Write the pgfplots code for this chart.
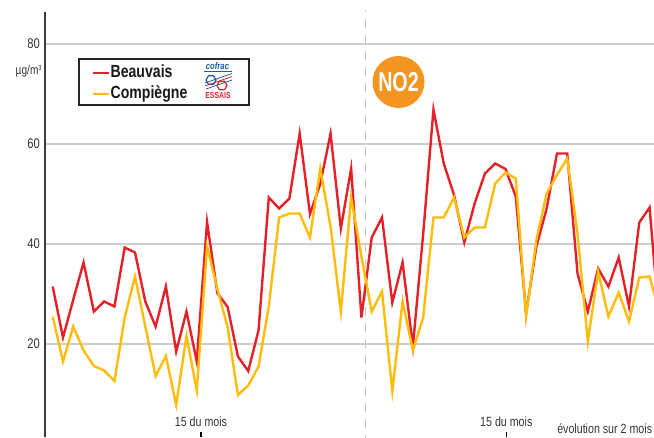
\documentclass[border=0pt]{standalone}
\usepackage{pgfplots}
\pgfplotsset{compat=1.18}
\usepackage{pgfplotstable}
\usepackage{fontspec}
\setmainfont{Liberation Sans}[FakeStretch=0.8]
\newfontfamily\narrowfont{Liberation Sans}[FakeStretch=0.72]
\definecolor{bred}{RGB}{230,32,40}
\definecolor{cyel}{RGB}{255,188,10}
\definecolor{orno}{RGB}{244,148,33}
\definecolor{gridgray}{RGB}{205,205,205}
\definecolor{dashgray}{RGB}{200,200,200}
\definecolor{textgray}{RGB}{51,51,51}
\definecolor{axisgray}{RGB}{60,60,60}
\definecolor{cofblue}{RGB}{30,90,175}
\definecolor{cofred}{RGB}{225,35,45}

\pgfplotstableread{
i r y
0 31.5 25.5
1 21.3 16.5
2 28.9 23.5
3 36.3 18.7
4 26.5 15.6
5 28.5 14.7
6 27.5 12.6
7 39.3 25.3
8 38.3 33.5
9 28.5 23.5
10 23.5 13.6
11 31.5 17.6
12 18.5 7.8
13 26.5 21.6
14 16.5 10.7
15 44.4 39.5
16 30.2 31.0
17 27.4 23.3
18 17.5 9.8
19 14.6 11.7
20 22.7 15.5
21 49.3 27.5
22 47.1 45.3
23 49.1 46.1
24 62.1 46.1
25 46.0 41.3
26 52.0 55.1
27 62.1 43.5
28 43.1 26.5
29 55.1 49.3
30 25.3 37.5
31 41.3 26.5
32 45.3 30.5
33 28.3 10.6
34 36.3 28.5
35 19.5 18.7
36 42.0 25.3
37 66.9 45.3
38 56.1 45.3
39 49.8 49.3
40 40.3 41.3
41 48.1 43.3
42 54.1 43.3
43 56.1 52.1
44 55.0 54.3
45 49.5 53.1
46 26.1 25.5
47 39.5 40.8
48 47.1 50.1
49 58.1 53.8
50 58.1 57.1
51 34.1 42.1
52 26.5 20.5
53 35.1 34.5
54 31.5 25.5
55 37.3 30.3
56 27.5 24.5
57 44.3 33.3
58 47.3 33.5
59 23.0 26.0
}\datatable

\begin{document}
\begin{tikzpicture}
\begin{axis}[
  scale only axis,
  width=456.75pt, height=325.5pt,
  xmin=-0.748, xmax=58.43, ymin=0, ymax=86.8,
  axis line style={draw=none},
  xtick=\empty,
  ytick={0,20,40,60,80},
  major tick length=0pt,
  ymajorgrids,
  grid style={line width=0.9pt, color=gridgray},
  yticklabel style={font=\fontsize{10.5}{12}\selectfont, text=textgray, anchor=east, inner sep=0pt, xshift=-3.75pt},
  /pgf/number format/assume math mode=true,
  legend style={at={(0.0772,0.8733)}, anchor=north west, draw=none, fill=none, inner sep=0pt,
    row sep=3.75pt,
    nodes={inner sep=0pt, text height=9.2pt, text depth=2.6pt, font=\bfseries\fontsize{13.2}{14}\selectfont, text=black!90},
    /tikz/every even column/.append style={column sep=3.75pt}},
  legend cell align=left,
  legend image code/.code={\draw[#1] (0pt,0pt) -- (12pt,0pt);},
]
\draw[line width=1pt, color=dashgray, dash pattern=on 7pt off 5pt] (axis cs:30.4,0) -- (axis cs:30.4,86.8);
\addplot[color=bred, line width=1.8pt] table[x=i, y=r] {\datatable};
\addplot[color=cyel, line width=1.8pt] table[x=i, y=y] {\datatable};
\legend{Beauvais, Compiègne}
\coordinate (O) at (rel axis cs:0,0);
\end{axis}
\begin{scope}[shift={(O)}, x=0.75pt, y=-0.75pt, shift={(-45,-444)}]
  % y axis line
  \draw[line width=1.2pt, color=axisgray] (45,12) -- (45,437);
  % unit
  \node[anchor=east, inner sep=0pt, text=textgray, font=\fontsize{9.5}{11}\selectfont] at (42,71) {µg/m\raisebox{0.55ex}{\fontsize{5.5}{6}\selectfont 3}};
  % bottom labels
  \node[text=textgray, inner sep=0pt, font=\fontsize{10}{12}\selectfont] at (201,422) {15 du mois};
  \draw[line width=0.9pt, color=black] (201,431.5) -- (201,437);
  \node[text=textgray, inner sep=0pt, font=\fontsize{10}{12}\selectfont] at (506.3,422) {15 du mois};
  \draw[line width=0.9pt, color=black] (506.3,431.5) -- (506.3,437);
  \node[anchor=west, text=textgray, inner sep=0pt, font=\fontsize{10}{12}\selectfont] at (557,429) {évolution sur 2 mois};
  % legend frame
  \draw[line width=1.5pt, color=black!85] (79,59) rectangle (249,105);
  % cofrac logo
  \node[text=cofblue, inner sep=0pt, font=\bfseries\itshape\fontsize{7.2}{8}\selectfont] at (217.5,66.5) {cofrac};
  \draw[cofblue, line width=1.2pt] (204,71.5) -- (232,71.5);
  \draw[cofblue, line width=0.9pt] (211,80) +(0:5) -- +(60:5) -- +(120:5) -- +(180:5) -- +(240:5) -- +(300:5) -- cycle;
  \draw[cofred, line width=0.9pt] (222,85.5) +(0:5) -- +(60:5) -- +(120:5) -- +(180:5) -- +(240:5) -- +(300:5) -- cycle;
  \draw[cofblue, line width=0.6pt] (205,83) -- (232,73.5);
  \draw[cofred, line width=0.6pt] (205,86) -- (232,76.5);
  \draw[cofblue, line width=0.6pt] (206,89) -- (232,80);
  \node[text=cofred, inner sep=0pt, font=\bfseries\fontsize{6.5}{7}\selectfont] at (218,96) {ESSAIS};
  % NO2 badge
  \fill[orno] (398.5,82) circle (19.5pt);
  \node[text=white, inner sep=0pt, font=\narrowfont\bfseries\fontsize{20.5}{21}\selectfont] at (398.5,82.5) {NO2};
  \pgfresetboundingbox
  \path[use as bounding box] (0,0) rectangle (654,437);
\end{scope}
\end{tikzpicture}
\end{document}
